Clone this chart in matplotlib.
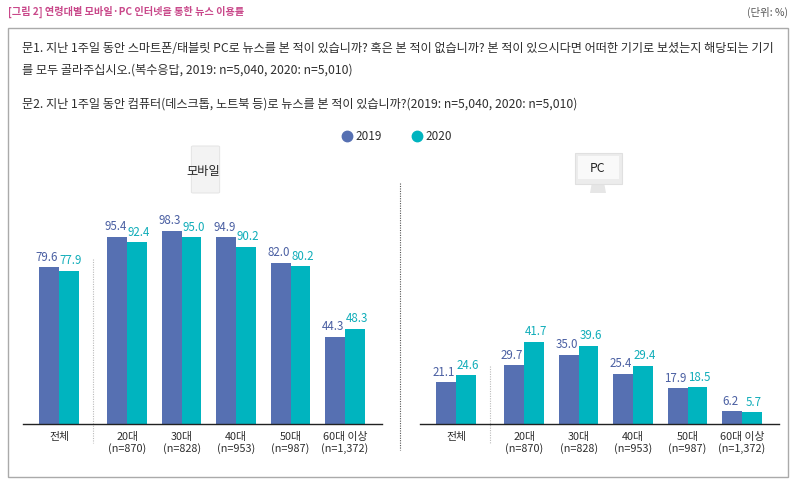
import matplotlib.pyplot as plt
from matplotlib.lines import Line2D
from matplotlib.patches import FancyBboxPatch, Rectangle, Polygon

plt.rcParams['font.family'] = ['Noto Sans CJK KR', 'DejaVu Sans']

categories = ['전체', '20대\n(n=870)', '30대\n(n=828)', '40대\n(n=953)', '50대\n(n=987)', '60대 이상\n(n=1,372)']
mobile_2019 = [79.6, 95.4, 98.3, 94.9, 82.0, 44.3]
mobile_2020 = [77.9, 92.4, 95.0, 90.2, 80.2, 48.3]
pc_2019 = [21.1, 29.7, 35.0, 25.4, 17.9, 6.2]
pc_2020 = [24.6, 41.7, 39.6, 29.4, 18.5, 5.7]
years = ['2019', '2020']

C19 = '#5670b2'
C20 = '#00b4bf'
T19 = '#4a5fa2'
T20 = '#10adb9'
TXT = '#2e2e2e'

W, H = 796, 482
fig = plt.figure(figsize=(W / 100, H / 100), dpi=100)


def fx(px):
    return px / W


def fy(py):
    return 1 - py / H


# title and unit
fig.text(fx(8), fy(12), '[그림 2] 연령대별 모바일·PC 인터넷을 통한 뉴스 이용률',
         color='#c9488a', fontsize=7.3, fontweight='bold', va='center', ha='left')
fig.text(fx(788), fy(12), '(단위: %)', color='#555555', fontsize=7.5, va='center', ha='right')

# outer box
fig.patches.append(Rectangle((fx(8), fy(477)), fx(780), (477 - 28) / H, transform=fig.transFigure,
                             fill=False, edgecolor='#aaaaaa', linewidth=1.0))

q1 = ('문1. 지난 1주일 동안 스마트폰/태블릿 PC로 뉴스를 본 적이 있습니까? 혹은 본 적이 없습니까? '
      '본 적이 있으시다면 어떠한 기기로 보셨는지 해당되는 기기')
q1b = '를 모두 골라주십시오.(복수응답, 2019: n=5,040, 2020: n=5,010)'
q2 = '문2. 지난 1주일 동안 컴퓨터(데스크톱, 노트북 등)로 뉴스를 본 적이 있습니까?(2019: n=5,040, 2020: n=5,010)'
for txt, y in [(q1, 48), (q1b, 70), (q2, 104)]:
    fig.text(fx(22), fy(y), txt, color=TXT, fontsize=8.75, va='center', ha='left')

# legend
handles = [Line2D([], [], marker='o', linestyle='', color=c, markersize=7.5) for c in (C19, C20)]
fig.legend(handles, years, loc='center', bbox_to_anchor=(fx(396), fy(137)), ncol=2, frameon=False,
           fontsize=8.5, handletextpad=0.1, handlelength=1.2, columnspacing=2.4, labelcolor=TXT)

# panel divider
fig.add_artist(Line2D([fx(400), fx(400)], [fy(183), fy(450)], transform=fig.transFigure,
                      color='#555555', linestyle=(0, (1, 1.2)), linewidth=0.8))

# icons
fig.patches.append(FancyBboxPatch((fx(193), fy(192)), fx(25), (192 - 147) / H, transform=fig.transFigure,
                                  boxstyle='round,pad=0.002', facecolor='#f3f3f3', edgecolor='#e6e6e6', linewidth=0.8))
fig.text(fx(203), fy(171), '모바일', color='#222222', fontsize=8.8, ha='center', va='center')
fig.patches.append(Polygon([(fx(592), fy(182)), (fx(604), fy(182)), (fx(606), fy(193)), (fx(590), fy(193))],
                           closed=True, transform=fig.transFigure, facecolor='#e6e6e6', edgecolor='none'))
fig.patches.append(Rectangle((fx(575), fy(184)), fx(47), (184 - 153) / H, transform=fig.transFigure,
                             facecolor='#ececec', edgecolor='#e0e0e0', linewidth=0.8))
fig.patches.append(Rectangle((fx(578), fy(179)), fx(41), (179 - 156) / H, transform=fig.transFigure,
                             facecolor='#f9f9f9', edgecolor='none'))
fig.text(fx(598), fy(169), 'PC', color='#222222', fontsize=8.8, ha='center', va='center')

xpos = [0, 1.25, 2.25, 3.25, 4.25, 5.25]
bw = 0.36
unit = 54.5
ymax = 110
bottom_px = 423.5
top_px = bottom_px - ymax * 1.96


def panel(left_px, v19, v20):
    x0 = -0.66
    x1 = 5.93
    width_px = (x1 - x0) * unit
    ax = fig.add_axes([fx(left_px), fy(bottom_px), width_px / W, (bottom_px - top_px) / H])
    ax.set_xlim(x0, x1)
    ax.set_ylim(0, ymax)
    ax.bar([x - bw / 2 for x in xpos], v19, width=bw, color=C19)
    ax.bar([x + bw / 2 for x in xpos], v20, width=bw, color=C20)
    for x, a, b in zip(xpos, v19, v20):
        ax.annotate(f'{a:.1f}', (x - bw / 2, a), xytext=(-1.5, 2.5), textcoords='offset points',
                    ha='center', va='bottom', color=T19, fontsize=8.3)
        ax.annotate(f'{b:.1f}', (x + bw / 2, b), xytext=(1.5, 2.5), textcoords='offset points',
                    ha='center', va='bottom', color=T20, fontsize=8.3)
    ax.set_xticks(xpos)
    ax.set_xticklabels(categories, fontsize=7.8, color=TXT, linespacing=1.1)
    ax.tick_params(axis='x', length=0, pad=6)
    ax.set_yticks([])
    for s in ('top', 'right', 'left'):
        ax.spines[s].set_visible(False)
    ax.spines['bottom'].set_color('#222222')
    ax.spines['bottom'].set_linewidth(1.0)
    dtop = max(v19[0], v20[0]) + 4.5
    ax.plot([0.62, 0.62], [dtop, -10], color='#bbbbbb', linestyle=(0, (1, 1.2)), linewidth=0.8, clip_on=False)
    return ax


panel(23, mobile_2019, mobile_2020)
panel(420, pc_2019, pc_2020)

fig.savefig('out.png', dpi=100)
